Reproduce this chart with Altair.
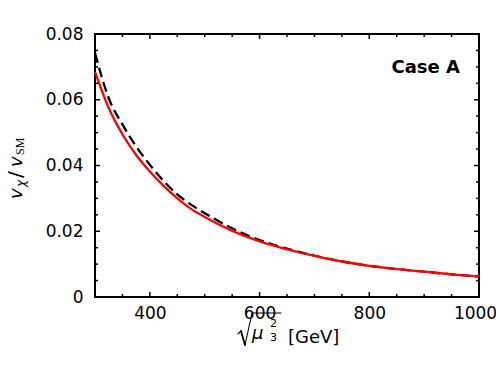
import altair as alt
import pandas as pd

# ---- data ----
mu = [300, 325, 350, 375, 400, 425, 450, 475, 500, 550, 600, 650, 700, 750, 800, 850, 900, 950, 1000]
red_vals = [0.0685, 0.0575, 0.0495, 0.0432, 0.0382, 0.0338, 0.0300, 0.0268, 0.0243, 0.0201, 0.0169, 0.0145,
            0.0125, 0.0108, 0.0095, 0.0085, 0.0077, 0.0069, 0.0062]
black_vals = [0.0742, 0.0605, 0.0525, 0.0458, 0.0402, 0.0353, 0.0312, 0.0281, 0.0255, 0.0209, 0.0173, 0.0147,
              0.0126, 0.0108, 0.0095, 0.0085, 0.0077, 0.0069, 0.0062]

x_labels = [400, 600, 800, 1000]
y_labels = [0, 0.02, 0.04, 0.06, 0.08]
x_major = [400, 600, 800]
x_minor = [350, 450, 500, 550, 650, 700, 750, 850, 900, 950]
y_major = [0.02, 0.04, 0.06]
y_minor = [0.005, 0.01, 0.015, 0.025, 0.03, 0.035, 0.045, 0.05, 0.055, 0.065, 0.07, 0.075]

W, H = 384, 263
FONT = "DejaVu Sans"

xs = alt.Scale(domain=[300, 1000], nice=False, zero=False)
ys = alt.Scale(domain=[0, 0.08], nice=False, zero=False)

x_axis = alt.Axis(
    values=x_labels, format="d", title=None, ticks=False, tickSize=0, domain=False, grid=False,
    labelFont=FONT, labelFontSize=17, labelColor="black", labelPadding=8,
    labelOffset=alt.ConditionalAxisNumber(
        condition={"test": "datum.value == 1000", "value": -4}, value=0),
    labelFlush=False, labelOverlap=False)
y_axis = alt.Axis(
    values=y_labels, title=None, ticks=False, tickSize=0, domain=False, grid=False,
    labelExpr="datum.value == 0 ? '0' : format(datum.value, '.2f')",
    labelFont=FONT, labelFontSize=17, labelColor="black", labelPadding=12,
    labelFlush=False, labelOverlap=False)

black_df = pd.DataFrame({"mu": mu, "v": black_vals})
red_df = pd.DataFrame({"mu": mu, "v": red_vals})

black_line = alt.Chart(black_df).mark_line(
    color="black", strokeWidth=2.3, strokeDash=[10, 5], interpolate="monotone"
).encode(
    x=alt.X("mu:Q", scale=xs, axis=x_axis),
    y=alt.Y("v:Q", scale=ys, axis=y_axis),
)

red_line = alt.Chart(red_df).mark_line(
    color="#ff0000", strokeWidth=2.3, interpolate="monotone"
).encode(
    x=alt.X("mu:Q", scale=xs, axis=x_axis),
    y=alt.Y("v:Q", scale=ys, axis=y_axis),
)


def xticks(vals, length):
    d = pd.DataFrame({"t": vals})
    bottom = alt.Chart(d).mark_rule(color="black", strokeWidth=1.5).encode(
        x=alt.X("t:Q", scale=xs, axis=x_axis), y=alt.value(H), y2=alt.value(H - length))
    top = alt.Chart(d).mark_rule(color="black", strokeWidth=1.5).encode(
        x=alt.X("t:Q", scale=xs, axis=x_axis), y=alt.value(0), y2=alt.value(length))
    return [bottom, top]


def yticks(vals, length):
    d = pd.DataFrame({"t": vals})
    left = alt.Chart(d).mark_rule(color="black", strokeWidth=1.5).encode(
        y=alt.Y("t:Q", scale=ys, axis=y_axis), x=alt.value(0), x2=alt.value(length))
    right = alt.Chart(d).mark_rule(color="black", strokeWidth=1.5).encode(
        y=alt.Y("t:Q", scale=ys, axis=y_axis), x=alt.value(W), x2=alt.value(W - length))
    return [left, right]


one = pd.DataFrame({"a": [0]})


def txt(s, x, y, size, style="normal", weight="normal", font=FONT, angle=0, align="left"):
    return alt.Chart(one).mark_text(
        text=s, font=font, fontSize=size, fontStyle=style, fontWeight=weight,
        angle=angle, align=align, baseline="alphabetic", color="black"
    ).encode(x=alt.value(x), y=alt.value(y))


def seg(x1, y1, x2, y2, w):
    return alt.Chart(one).mark_rule(color="black", strokeWidth=w, strokeCap="round").encode(
        x=alt.value(x1), y=alt.value(y1), x2=alt.value(x2), y2=alt.value(y2))


# y-axis title pieces: v_chi / v_SM (rotated, reading upwards)
ylab = [
    txt("v", -73, 165, 18, style="italic", angle=270),
    txt("\u03c7", -70, 153, 12, style="italic", angle=270),
    txt("/", -73, 144, 20, angle=270),
    txt("v", -73, 133, 18, style="italic", angle=270),
    txt("SM", -71, 121, 12, font="Liberation Serif", angle=270),
]

# x-axis title pieces: sqrt(mu_3^2) [GeV]
xlab = [
    seg(143, 300, 146, 297, 1.1),
    seg(146, 297, 150, 311, 1.8),
    seg(150, 311, 157, 279, 1.1),
    seg(157, 279, 186, 279, 1.1),
    txt("\u03bc", 157, 305, 18, style="italic"),
    txt("2", 175, 293, 11),
    txt("3", 175, 307, 11),
    txt("[GeV]", 193, 309, 18),
]

case = txt("Case A", 365, 39, 18, weight="bold", align="right")

layers = [black_line, red_line] + xticks(x_major, 5) + xticks(x_minor, 3) + \
    yticks(y_major, 5) + yticks(y_minor, 3) + ylab + xlab + [case]

chart = alt.layer(*layers).properties(
    width=W, height=H,
    padding={"left": 87, "top": 26, "right": 17, "bottom": 73},
    autosize=alt.AutoSizeParams(type="none"),
    background="white",
).configure_view(
    stroke="black", strokeWidth=2
)

chart.save("out.html", embed_options={"renderer": "svg", "actions": False})
